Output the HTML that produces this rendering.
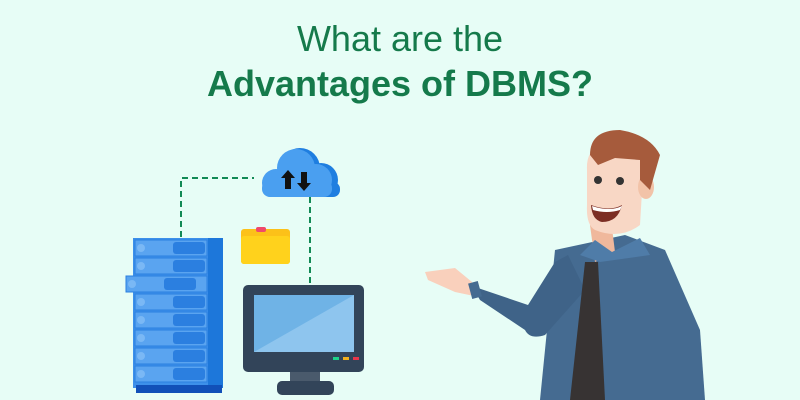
<!DOCTYPE html>
<html><head><style>
body{margin:0;width:800px;height:400px;overflow:hidden;background:#e7fdf6;}
svg{display:block}
</style></head><body>
<svg width="800" height="400" viewBox="0 0 800 400" xmlns="http://www.w3.org/2000/svg">
<rect width="800" height="400" fill="#e7fdf6"/>
<text x="400" y="51" text-anchor="middle" font-family="Liberation Sans, sans-serif" font-size="36" fill="#157a4b">What are the</text>
<text x="400" y="96" text-anchor="middle" font-family="Liberation Sans, sans-serif" font-size="36" font-weight="bold" fill="#157a4b">Advantages of DBMS?</text>
<!-- dashed connectors -->
<path d="M181 237 V178 H254" fill="none" stroke="#128a55" stroke-width="2" stroke-dasharray="6,4"/>
<path d="M310 197 V286" fill="none" stroke="#128a55" stroke-width="2" stroke-dasharray="6,4"/>
<!-- cloud -->
<g fill="#1f7ee0">
<circle cx="300" cy="168" r="20"/><circle cx="321" cy="180" r="17"/>
<rect x="264" y="182" width="76" height="15" rx="7"/>
</g>
<g fill="#4a9ff0">
<circle cx="276" cy="183" r="14"/><circle cx="296" cy="168" r="19"/><circle cx="316" cy="180" r="16"/>
<rect x="262" y="180" width="70" height="17" rx="8"/>
</g>
<path d="M288 170 l-7 8 h4 v11 h6 v-11 h4 z M304 191 l-7 -8 h4 v-11 h6 v11 h4 z" fill="#111"/>
<!-- folder -->
<rect x="241" y="229" width="49" height="35" rx="3" fill="#fcc119"/>
<rect x="256" y="227" width="10" height="5" rx="2" fill="#ef4a6b"/>
<rect x="241" y="236" width="49" height="28" rx="3" fill="#ffd21c"/>
<!-- server -->
<rect x="133" y="238" width="90" height="150" fill="#3d90ea"/>
<rect x="208" y="238" width="15" height="150" fill="#1d77da"/>
<rect x="136" y="385" width="86" height="8" fill="#1150b8"/>
<g fill="#5aa4f0" stroke="#2b7fe0" stroke-width="1">
<rect x="135" y="240" width="72" height="16"/><rect x="135" y="258" width="72" height="16"/>
<rect x="126" y="276" width="81" height="16"/><rect x="135" y="294" width="72" height="16"/>
<rect x="135" y="312" width="72" height="16"/><rect x="135" y="330" width="72" height="16"/>
<rect x="135" y="348" width="72" height="16"/><rect x="135" y="366" width="72" height="16"/>
</g>
<g fill="#2b7fe0">
<rect x="173" y="242" width="32" height="12" rx="3"/><rect x="173" y="260" width="32" height="12" rx="3"/>
<rect x="164" y="278" width="32" height="12" rx="3"/><rect x="173" y="296" width="32" height="12" rx="3"/>
<rect x="173" y="314" width="32" height="12" rx="3"/><rect x="173" y="332" width="32" height="12" rx="3"/>
<rect x="173" y="350" width="32" height="12" rx="3"/><rect x="173" y="368" width="32" height="12" rx="3"/>
</g>
<g fill="#7ab8f5">
<circle cx="141" cy="248" r="4"/><circle cx="141" cy="266" r="4"/><circle cx="132" cy="284" r="4"/>
<circle cx="141" cy="302" r="4"/><circle cx="141" cy="320" r="4"/><circle cx="141" cy="338" r="4"/>
<circle cx="141" cy="356" r="4"/><circle cx="141" cy="374" r="4"/>
</g>
<!-- monitor -->
<rect x="243" y="285" width="121" height="87" rx="5" fill="#324459"/>
<polygon points="254,295 354,295 354,352 254,352" fill="#6fb3e6"/>
<polygon points="354,295 354,352 254,352" fill="#8ec5ee"/>
<rect x="333" y="357" width="6" height="3" fill="#1ed38a"/><rect x="343" y="357" width="6" height="3" fill="#f2b01e"/><rect x="353" y="357" width="6" height="3" fill="#e8364a"/>
<rect x="290" y="372" width="30" height="12" fill="#4a5a6c"/>
<rect x="277" y="381" width="57" height="14" rx="5" fill="#324459"/>
<!-- man -->
<path d="M540 400 L555 250 L625 235 L665 250 L700 330 L705 400 Z" fill="#456b91"/>
<path d="M568 255 L585 290 L545 335 Q530 340 525 330 L480 300 L472 286 L528 305 L555 262 Z" fill="#3f6388"/>
<path d="M425 272 L455 268 L472 282 L474 296 L455 292 L428 280 Z" fill="#f9d0bc"/>
<rect x="470" y="282" width="10" height="16" fill="#456b91" transform="rotate(-15 475 290)"/>
<path d="M590 225 L612 228 L615 252 L595 262 Z" fill="#f0b89c"/>
<path d="M580 255 L595 240 L612 252 L640 238 L650 255 L600 262 Z" fill="#4f7ca8"/>
<path d="M585 262 L598 262 L605 400 L570 400 Z" fill="#373333"/>
<path d="M587 170 Q586 150 600 148 L638 150 L643 175 L640 225 Q620 240 595 230 Q586 225 587 205 Z" fill="#f8d7c5"/>
<ellipse cx="646" cy="187" rx="8" ry="12" fill="#f2c3a8"/>
<path d="M590 155 Q590 130 620 130 Q650 135 660 155 L650 190 L640 180 L640 160 L615 158 L598 165 Z" fill="#a65b3c"/>
<circle cx="598" cy="180" r="4" fill="#333"/><circle cx="620" cy="181" r="4" fill="#333"/>
<path d="M591 205 Q610 212 622 205 Q618 222 602 222 Q592 220 591 205 Z" fill="#7c2e24"/>
<path d="M592 206 Q610 212 622 206 L620 210 Q607 214 593 210 Z" fill="#fff"/>
</svg>
</body></html>
